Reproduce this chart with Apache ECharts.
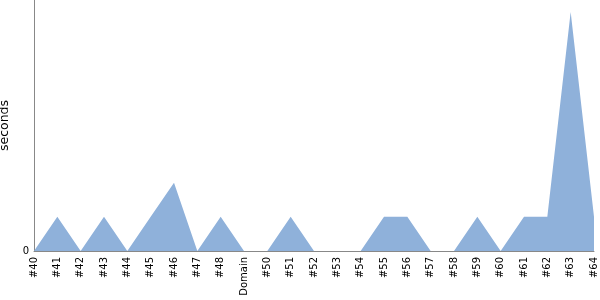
<!DOCTYPE html>
<html><head><meta charset="utf-8">
<script src="https://cdn.jsdelivr.net/npm/echarts@6/dist/echarts.min.js"></script>
<style>html,body{margin:0;padding:0;background:#fff}#c{width:600px;height:300px}</style>
</head><body><div id="c"></div>
<script>
const categories = ['#40','#41','#42','#43','#44','#45','#46','#47','#48','Domain','#50','#51','#52','#53','#54','#55','#56','#57','#58','#59','#60','#61','#62','#63','#64'];
const seconds = [0,1,0,1,0,1,2,0,1,0,0,1,0,0,0,1,1,0,0,1,0,1,1,7,1];
const yTicks = [0];

const chart = echarts.init(document.getElementById('c'), null, {renderer:'canvas'});
chart.setOption({
  animation:false,
  grid:{left:34,right:6,top:0,bottom:49,containLabel:false,outerBoundsMode:'none'},
  xAxis:{
    type:'category', data:categories, boundaryGap:false,
    axisLine:{lineStyle:{color:'#888',width:1}},
    axisTick:{show:false},
    axisLabel:{rotate:90,interval:0,color:'#000',fontFamily:'DejaVu Sans',fontSize:10,margin:6}
  },
  yAxis:{
    type:'value', min:0, max:7.35, interval:7.35,
    name:'seconds', nameLocation:'middle', nameGap:18,
    nameTextStyle:{color:'#000',fontFamily:'DejaVu Sans',fontSize:12.5},
    axisLine:{show:true,lineStyle:{color:'#888',width:1}},
    axisTick:{show:false},
    splitLine:{show:false},
    axisLabel:{color:'#000',fontFamily:'DejaVu Sans',fontSize:10,margin:5,
      formatter:function(v){return yTicks.indexOf(v)>=0?String(v):'';}}
  },
  series:[{
    type:'line', data:seconds, symbol:'none',
    lineStyle:{width:0},
    areaStyle:{color:'#8fb1da',opacity:1}
  }]
});
</script></body></html>
